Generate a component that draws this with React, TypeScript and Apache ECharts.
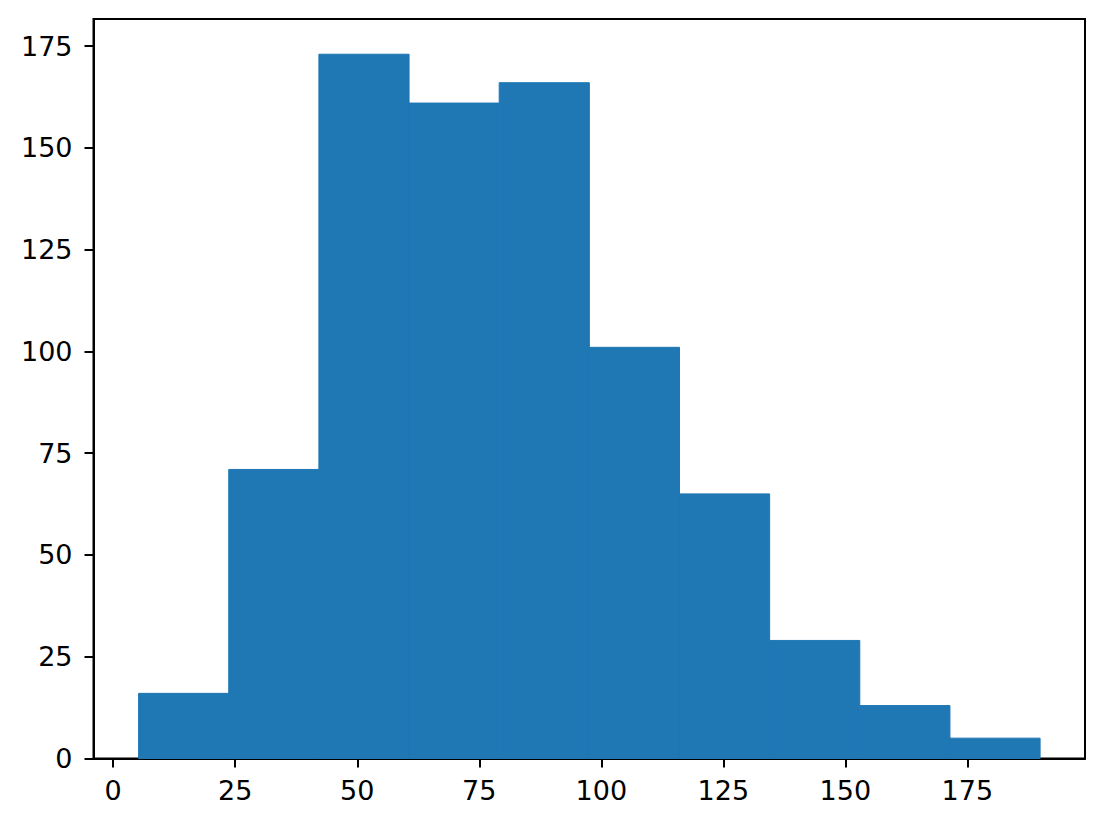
import React, { useEffect, useRef } from "react";
import * as echarts from "echarts";

// histogram bins (edges) and counts
const binEdges = [5.2, 23.67, 42.14, 60.61, 79.08, 97.55, 116.02, 134.49, 152.96, 171.43, 189.9];
const counts = [16, 71, 173, 161, 166, 101, 65, 29, 13, 5];
const xTicks = [0, 25, 50, 75, 100, 125, 150, 175];
const yTicks = [0, 25, 50, 75, 100, 125, 150, 175];

const App: React.FC = () => {
  const chartRef = useRef<HTMLDivElement>(null);

  useEffect(() => {
    if (!chartRef.current) return;
    const chart = echarts.init(chartRef.current, undefined, { renderer: "svg" });

    const data = counts.map((c, i) => [binEdges[i], binEdges[i + 1], c]);
    const labelFont = {
      fontFamily: "DejaVu Sans",
      fontSize: 27,
      color: "#000",
    };

    const option = {
      animation: false,
      backgroundColor: "#fff",
      grid: {
        left: 93.5,
        right: 19,
        top: 19,
        bottom: 67.5,
        show: true,
        borderColor: "#000",
        borderWidth: 2,
        backgroundColor: "transparent",
      },
      xAxis: {
        type: "value",
        min: -4.04,
        max: 199.1,
        splitLine: { show: false },
        axisLine: { show: true, onZero: false, lineStyle: { color: "#000", width: 2 } },
        axisTick: {
          show: true,
          length: 9,
          customValues: xTicks,
          lineStyle: { color: "#000", width: 2 },
        },
        axisLabel: { ...labelFont, margin: 18, customValues: xTicks },
      },
      yAxis: {
        type: "value",
        min: 0,
        max: 181.65,
        splitLine: { show: false },
        axisLine: { show: true, onZero: false, lineStyle: { color: "#000", width: 2 } },
        axisTick: {
          show: true,
          length: 9,
          customValues: yTicks,
          lineStyle: { color: "#000", width: 2 },
        },
        axisLabel: { ...labelFont, margin: 21, customValues: yTicks },
      },
      series: [
        {
          type: "custom",
          data,
          encode: { x: [0, 1], y: 2 },
          renderItem: (params: any, api: any) => {
            const topLeft = api.coord([api.value(0), api.value(2)]);
            const bottomRight = api.coord([api.value(1), 0]);
            return {
              type: "rect",
              shape: {
                x: topLeft[0],
                y: topLeft[1],
                width: bottomRight[0] - topLeft[0],
                height: bottomRight[1] - topLeft[1],
              },
              style: { fill: "#1f77b4", stroke: "#1f77b4", lineWidth: 1 },
            };
          },
        },
      ],
    };

    chart.setOption(option);
    return () => {
      chart.dispose();
    };
  }, []);

  return (
    <div
      ref={chartRef}
      style={{ position: "absolute", left: 0, top: 0, width: "1104px", height: "826px" }}
    />
  );
};

export default App;
